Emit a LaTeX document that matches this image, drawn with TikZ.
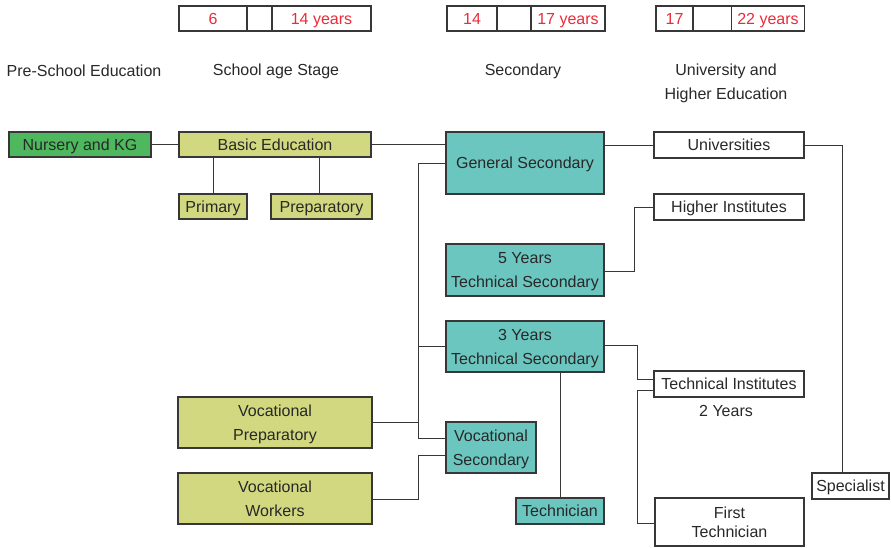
\documentclass[tikz,border=0pt]{standalone}
\usepackage{fontspec}
\setmainfont{Liberation Sans}
\definecolor{gr}{RGB}{77,184,94}
\definecolor{yl}{RGB}{210,216,128}
\definecolor{tl}{RGB}{108,198,192}
\definecolor{rd}{RGB}{232,44,56}
\definecolor{tx}{RGB}{40,40,40}
\definecolor{ln}{RGB}{55,55,55}
\tikzset{
  base/.style={draw=ln, line width=1.1pt, rectangle, inner sep=0pt, text=tx, align=center,
    text depth=0pt, font=\fontsize{16}{24}\selectfont},
  greenbox/.style={base, fill=gr},
  yelbox/.style={base, fill=yl},
  tealbox/.style={base, fill=tl},
  whitebox/.style={base, fill=white},
  cell/.style={base, fill=white, text=rd, minimum height=25pt},
  hdr/.style={text=tx, align=center, inner sep=0pt, font=\fontsize{16}{24}\selectfont},
  conn/.style={draw=ln, line width=1pt}
}
\begin{document}
\begin{tikzpicture}[x=1pt,y=-1pt]
\useasboundingbox (0,0) rectangle (891,547);
% top age boxes
\node[cell, minimum width=68pt] (t1a) at (213,18.5) {6};
\node[cell, minimum width=25pt] (t1b) at (259.5,18.5) {};
\node[cell, minimum width=99pt] (t1c) at (321.5,18.5) {14 years};
\node[cell, minimum width=50pt] (t2a) at (472,18.5) {14};
\node[cell, minimum width=34pt] (t2b) at (514,18.5) {};
\node[cell, minimum width=74pt] (t2c) at (568,18.5) {17 years};
\node[cell, minimum width=37pt] (t3a) at (674.5,18.5) {17};
\node[cell, minimum width=38pt] (t3b) at (712.5,18.5) {};
\node[cell, minimum width=73pt] (t3c) at (768,18.5) {22 years};
% headers
\node[hdr] (h1) at (84,71) {Pre-School Education};
\node[hdr] (h2) at (276,71) {School age Stage};
\node[hdr] (h3) at (523,71) {Secondary};
\node[hdr] (h4) at (726,83) {University and\\Higher Education};
% boxes
\node[greenbox, minimum width=142pt, minimum height=25pt] (nur) at (80,144.5) {Nursery and KG};
\node[yelbox, minimum width=192pt, minimum height=25pt] (basic) at (275,144.5) {Basic Education};
\node[yelbox, minimum width=68pt, minimum height=25pt] (prim) at (213,206.5) {Primary};
\node[yelbox, minimum width=101pt, minimum height=25pt] (prep) at (321.5,206.5) {Preparatory};
\node[tealbox, minimum width=158pt, minimum height=62pt] (gen) at (525,163) {General Secondary};
\node[tealbox, minimum width=158pt, minimum height=52pt] (five) at (525,270) {5 Years\\Technical Secondary};
\node[tealbox, minimum width=158pt, minimum height=51pt] (three) at (525,346.5) {3 Years\\Technical Secondary};
\node[tealbox, minimum width=90pt, minimum height=51pt] (vsec) at (491,447.5) {Vocational\\Secondary};
\node[tealbox, minimum width=88pt, minimum height=26pt] (tech) at (560,511) {Technician};
\node[yelbox, minimum width=194pt, minimum height=51pt] (vprep) at (275,422.5) {Vocational\\Preparatory};
\node[yelbox, minimum width=194pt, minimum height=51pt] (vwork) at (275,498.5) {Vocational\\Workers};
\node[whitebox, minimum width=150pt, minimum height=26pt] (univ) at (729,145) {Universities};
\node[whitebox, minimum width=150pt, minimum height=26pt] (hinst) at (729,207) {Higher Institutes};
\node[whitebox, minimum width=150pt, minimum height=26pt] (tinst) at (729,384) {Technical Institutes};
\node[hdr] (two) at (726,411) {2 Years};
\node[whitebox, minimum width=149pt, minimum height=48pt, font=\fontsize{16}{19}\selectfont] (ftech) at (729.5,522) {First\\Technician};
\node[whitebox, minimum width=77pt, minimum height=26pt] (spec) at (850.5,486) {Specialist};
% connectors
\coordinate (trX) at (418.5,0);
\coordinate (trY) at (637.5,0);
\draw[conn] (nur.east) -- (basic.west);
\draw[conn] (basic.east) -- (basic.east -| gen.west);
\draw[conn] (prim.north) -- (prim.north |- basic.south);
\draw[conn] ([xshift=-2pt]prep.north) -- ([xshift=-2pt]prep.north |- basic.south);
\draw[conn] (gen.east |- univ.west) -- (univ.west);
\draw[conn] (gen.west) -- (gen.west -| trX) -- ([yshift=9pt]vsec.west -| trX) -- ([yshift=9pt]vsec.west);
\draw[conn] (three.west) -- (three.west -| trX);
\draw[conn] (vprep.east) -- (vprep.east -| trX);
\draw[conn] ([yshift=-0.5pt]vwork.east) -- ([yshift=-0.5pt]vwork.east -| trX) -- ([yshift=-7.5pt]vsec.west -| trX) -- ([yshift=-7.5pt]vsec.west);
\draw[conn] ([yshift=-1.7pt]five.east) -- ++(30,0) |- (hinst.west);
\draw[conn] ([yshift=1.5pt]three.east) -| ([yshift=4.7pt]tinst.west -| trY) -- ([yshift=4.7pt]tinst.west);
\draw[conn] ([yshift=-6pt]tinst.west) -- ([yshift=-6pt]tinst.west -| trY) |- ([yshift=-1.5pt]ftech.west);
\draw[conn] (tech.north) -- (tech.north |- three.south);
\draw[conn] (univ.east) -| ([xshift=-8pt]spec.north);
\end{tikzpicture}
\end{document}
